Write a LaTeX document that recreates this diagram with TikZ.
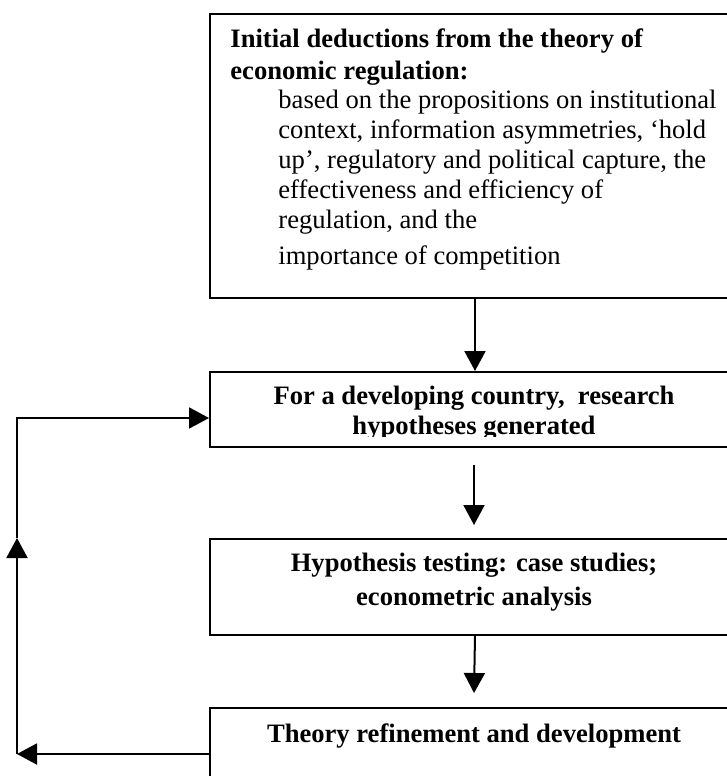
\documentclass[tikz,border=0pt]{standalone}
\usepackage{fontspec}
\setmainfont{Liberation Serif}
\usetikzlibrary{arrows.meta}
\begin{document}
\begin{tikzpicture}[x=0.5pt,y=-0.5pt,
  box/.style={draw, line width=1pt, rectangle, inner sep=0pt, anchor=north west, minimum width=265pt},
  txt/.style={inner sep=0pt, font=\fontsize{13.3}{15}\selectfont},
  btxt/.style={inner sep=0pt, font=\fontsize{13.3}{15}\selectfont\bfseries},
  arr/.style={line width=1pt, -{Triangle[length=10pt,width=10.5pt]}},
  ln/.style={line width=1pt}]
\useasboundingbox (0,0) rectangle (727,776);
\clip (0,0) rectangle (727,776);
% boxes
\node[box, minimum height=142pt] (b1) at (209,13) {};
\node[box, minimum height=37.5pt] (b2) at (209,371) {};
\node[box, minimum height=48pt] (b3) at (209,538) {};
\node[box, minimum height=41.5pt] (b4) at (209,707) {};
% top box text
\node[btxt, anchor=base west] (t1) at (230,47) {Initial deductions from the theory of};
\node[btxt, anchor=base west] (t2) at (230,79) {economic regulation:};
\node[txt, anchor=base west] (t3) at (278,108) {based on the propositions on institutional};
\node[txt, anchor=base west] (t4) at (278,138) {context, information asymmetries, ‘hold};
\node[txt, anchor=base west] (t5) at (278,168) {up’, regulatory and political capture, the};
\node[txt, anchor=base west] (t6) at (278,198) {effectiveness and efficiency of};
\node[txt, anchor=base west] (t7) at (278,228) {regulation, and the};
\node[txt, anchor=base west] (t8) at (278,264) {importance of competition};
% box 2 text
\node[btxt, anchor=base] (t9) at (474,404) {For a developing country,\ \ research};
\begin{scope}
  \clip (209,371) rectangle (739,436);
  \node[btxt, anchor=base] (t10) at (474,434) {hypotheses generated};
\end{scope}
% box 3 text
\node[btxt, anchor=base] (t11) at (474,571) {Hypothesis testing: case studies;};
\node[btxt, anchor=base] (t12) at (474,605) {econometric analysis};
% box 4 text
\node[btxt, anchor=base] (t13) at (474,742) {Theory refinement and development};
% connectors
\coordinate (a2s) at (474,465);
\coordinate (a2e) at (474,525);
\coordinate (a3e) at (474,693);
\coordinate (c1) at (17,754);
\coordinate (c2) at (17,538);
\coordinate (c3) at (17,418);
\draw[arr] (b1.south) -- (b2.north);
\draw[arr] (a2s) -- (a2e);
\draw[arr] (b3.south) -- (a3e);
\draw[arr] (c1 -| b4.west) -- (c1);
\draw[arr] (c1) -- (c2);
\draw[arr] (c2) -- (c3) -- (c3 -| b2.west);
\end{tikzpicture}
\end{document}
